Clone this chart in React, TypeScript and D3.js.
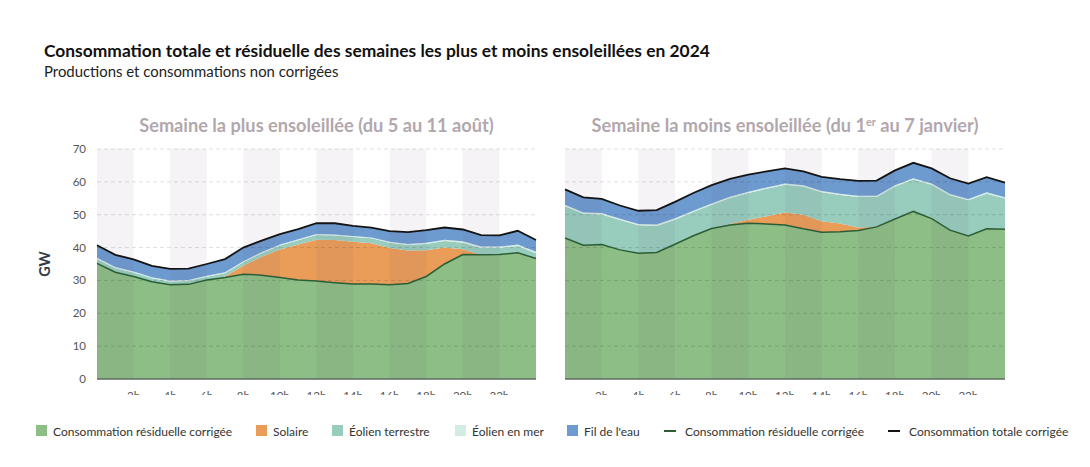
import React, { useEffect, useRef } from 'react';
import * as d3 from 'd3';

// hourly samples, 0h .. 24h
const HOURS = [0, 1, 2, 3, 4, 5, 6, 7, 8, 9, 10, 11, 12, 13, 14, 15, 16, 17, 18, 19, 20, 21, 22, 23, 24];

// Semaine la plus ensoleillée (août)
const residualAug = [35.2, 32.5, 31.2, 29.6, 28.7, 28.8, 30.1, 30.9, 31.9, 31.6, 30.9, 30.1, 29.8, 29.3, 28.9, 28.9, 28.7, 29.1, 31.2, 35.0, 37.9, 37.8, 37.9, 38.4, 36.7];
const solarAug = [0, 0, 0, 0, 0, 0, 0, 0.3, 2.6, 5.6, 8.5, 10.8, 12.6, 13.0, 12.9, 12.4, 11.2, 10.0, 8.0, 5.0, 1.6, 0, 0, 0, 0];
const onshoreAug = [1.3, 1.2, 1.2, 1.1, 1.0, 1.0, 1.0, 1.0, 1.0, 1.1, 1.2, 1.3, 1.4, 1.4, 1.4, 1.5, 1.6, 1.7, 1.9, 2.0, 2.0, 2.1, 2.0, 2.1, 1.6];
const offshoreAug = [0.4, 0.4, 0.3, 0.3, 0.3, 0.3, 0.3, 0.3, 0.3, 0.3, 0.3, 0.3, 0.3, 0.3, 0.3, 0.3, 0.3, 0.3, 0.4, 0.4, 0.4, 0.4, 0.4, 0.4, 0.4];
const hydroAug = [3.8, 3.7, 3.7, 3.4, 3.5, 3.5, 3.6, 4.0, 4.2, 3.5, 3.2, 3.1, 3.3, 3.4, 3.1, 3.0, 3.2, 3.6, 3.8, 3.7, 3.6, 3.5, 3.4, 4.2, 3.6];

// Semaine la moins ensoleillée (janvier)
const residualJan = [42.9, 40.7, 40.9, 39.3, 38.3, 38.5, 41.0, 43.6, 45.8, 46.9, 47.4, 47.2, 46.9, 45.7, 44.7, 44.8, 45.2, 46.3, 48.7, 51.0, 48.8, 45.3, 43.5, 45.7, 45.6];
const solarJan = [0, 0, 0, 0, 0, 0, 0, 0, 0, 0.3, 1.1, 2.3, 3.8, 4.3, 3.3, 2.5, 0.9, 0, 0, 0, 0, 0, 0, 0, 0];
const onshoreJan = [9.7, 9.6, 9.2, 9.1, 8.5, 8.1, 7.5, 7.2, 7.2, 7.9, 8.1, 8.4, 8.4, 8.6, 8.8, 8.7, 9.3, 9.1, 9.9, 9.7, 10.3, 10.6, 10.9, 10.7, 9.3];
const offshoreJan = [0.4, 0.4, 0.4, 0.4, 0.4, 0.4, 0.4, 0.4, 0.4, 0.4, 0.4, 0.4, 0.4, 0.4, 0.4, 0.4, 0.4, 0.4, 0.4, 0.4, 0.4, 0.4, 0.4, 0.4, 0.4];
const hydroJan = [4.7, 4.6, 4.3, 4.0, 4.0, 4.4, 5.0, 5.4, 5.6, 5.4, 5.2, 4.9, 4.6, 4.2, 4.3, 4.4, 4.5, 4.6, 4.5, 4.7, 4.6, 4.8, 4.7, 4.6, 4.5];

const X_TICKS = [2, 4, 6, 8, 10, 12, 14, 16, 18, 20, 22];
const Y_TICKS = [0, 10, 20, 30, 40, 50, 60, 70];
const BAND_STARTS = [0, 4, 8, 12, 16, 20];

const KEYS = ['residual', 'solar', 'onshore', 'offshore', 'hydro'];
const COLORS: Record<string, string> = {
  residual: '#8cbe85',
  solar: '#e99d58',
  onshore: '#98ccbd',
  offshore: '#d3ebe5',
  hydro: '#6d9bd0',
};
const RESIDUAL_LINE = '#2b5e36';
const TOTAL_LINE = '#141414';

const LEGEND = [
  { label: 'Consommation résiduelle corrigée', color: COLORS.residual, kind: 'box', x: 36 },
  { label: 'Solaire', color: COLORS.solar, kind: 'box', x: 256 },
  { label: 'Éolien terrestre', color: COLORS.onshore, kind: 'box', x: 332 },
  { label: 'Éolien en mer', color: COLORS.offshore, kind: 'box', x: 455 },
  { label: "Fil de l'eau", color: COLORS.hydro, kind: 'box', x: 567 },
  { label: 'Consommation résiduelle corrigée', color: RESIDUAL_LINE, kind: 'line', x: 664 },
  { label: 'Consommation totale corrigée', color: TOTAL_LINE, kind: 'line', x: 888 },
];

const FONT = 'Lato, "Open Sans", sans-serif';

const App: React.FC = () => {
  const svgRef = useRef<SVGSVGElement>(null);

  useEffect(() => {
    if (!svgRef.current) return;
    const svg = d3.select(svgRef.current);
    svg.selectAll('*').remove();

    const top = 149, bottom = 379;
    const y = d3.scaleLinear().domain([0, 70]).range([bottom, top]);

    // clip for the half-hidden hour labels
    svg.append('defs').append('clipPath').attr('id', 'cut')
      .append('rect').attr('x', 0).attr('y', 0).attr('width', 1090).attr('height', 395);

    svg.append('text').text('Consommation totale et résiduelle des semaines les plus et moins ensoleillées en 2024')
      .attr('x', 44).attr('y', 57).attr('font-family', FONT).attr('font-size', 17.4)
      .attr('font-weight', 'bold').attr('fill', '#111');
    svg.append('text').text('Productions et consommations non corrigées')
      .attr('x', 44).attr('y', 77).attr('font-family', FONT).attr('font-size', 14.9).attr('fill', '#222');

    // y axis (left panel only)
    svg.append('g').selectAll('text').data(Y_TICKS).join('text')
      .attr('x', 86).attr('y', d => y(d) + 4).attr('text-anchor', 'end')
      .attr('font-family', FONT).attr('font-size', 11.5).attr('fill', '#555')
      .text(d => d);
    svg.append('text').text('GW')
      .attr('transform', `translate(50,${(top + bottom) / 2}) rotate(-90)`)
      .attr('text-anchor', 'middle').attr('font-family', FONT).attr('font-size', 14.5)
      .attr('font-weight', 'bold').attr('fill', '#333a48');

    const panels = [
      {
        x0: 97, x1: 536, title: 'Semaine la plus ensoleillée (du 5 au 11 août)', sup: '',
        residual: residualAug, solar: solarAug, onshore: onshoreAug, offshore: offshoreAug, hydro: hydroAug,
      },
      {
        x0: 565, x1: 1005, title: 'Semaine la moins ensoleillée (du 1', sup: 'er',
        residual: residualJan, solar: solarJan, onshore: onshoreJan, offshore: offshoreJan, hydro: hydroJan,
      },
    ];

    panels.forEach(p => {
      const x = d3.scaleLinear().domain([0, 24]).range([p.x0, p.x1]);
      const g = svg.append('g');

      const t = g.append('text').attr('x', (p.x0 + p.x1) / 2).attr('y', 132)
        .attr('text-anchor', 'middle').attr('font-family', FONT).attr('font-size', 18.2)
        .attr('font-weight', 'bold').attr('fill', '#b2a7ad');
      t.append('tspan').text(p.title);
      if (p.sup) {
        t.append('tspan').text(p.sup).attr('font-size', 11).attr('dy', -6);
        t.append('tspan').text(' au 7 janvier)').attr('dy', 6);
      }

      const rows = HOURS.map((h, i) => ({
        hour: h,
        residual: p.residual[i],
        solar: p.solar[i],
        onshore: p.onshore[i],
        offshore: p.offshore[i],
        hydro: p.hydro[i],
      }));
      const stacked = d3.stack<any>().keys(KEYS)(rows);

      const area = d3.area<any>()
        .x(d => x(d.data.hour))
        .y0(d => y(d[0]))
        .y1(d => y(d[1]));

      g.selectAll('path.layer').data(stacked).join('path')
        .attr('class', 'layer')
        .attr('d', area)
        .attr('fill', d => COLORS[d.key]);

      // alternating 2h bands
      g.selectAll('rect.band').data(BAND_STARTS).join('rect')
        .attr('class', 'band')
        .attr('x', d => x(d)).attr('width', d => x(d + 2) - x(d))
        .attr('y', top).attr('height', bottom - top)
        .attr('fill', '#6b4f63').attr('opacity', 0.065);

      // grid
      g.selectAll('line.grid').data(Y_TICKS.filter(v => v > 0)).join('line')
        .attr('class', 'grid')
        .attr('x1', p.x0).attr('x2', p.x1)
        .attr('y1', d => y(d)).attr('y2', d => y(d))
        .attr('stroke', '#000').attr('stroke-opacity', 0.13)
        .attr('stroke-dasharray', '4,3');

      const line = d3.line<any>().x(d => x(d.data.hour)).y(d => y(d[1]));
      g.append('path').datum(stacked[0]).attr('d', line)
        .attr('fill', 'none').attr('stroke', RESIDUAL_LINE).attr('stroke-width', 1.5);
      g.append('path').datum(stacked[stacked.length - 1]).attr('d', line)
        .attr('fill', 'none').attr('stroke', TOTAL_LINE).attr('stroke-width', 1.8);

      g.append('line').attr('x1', p.x0).attr('x2', p.x1)
        .attr('y1', bottom).attr('y2', bottom)
        .attr('stroke', '#5f6b60').attr('stroke-width', 1.5);

      g.append('g').attr('clip-path', 'url(#cut)')
        .selectAll('text').data(X_TICKS).join('text')
        .attr('x', d => x(d)).attr('y', 400).attr('text-anchor', 'middle')
        .attr('font-family', FONT).attr('font-size', 11.5).attr('fill', '#555')
        .text(d => `${d}h`);
    });

    // legend
    const lg = svg.append('g').selectAll('g').data(LEGEND).join('g')
      .attr('transform', d => `translate(${d.x},431)`);
    lg.filter(d => d.kind === 'box').append('rect')
      .attr('x', 0).attr('y', -6).attr('width', 11).attr('height', 11).attr('fill', d => d.color);
    lg.filter(d => d.kind === 'line').append('line')
      .attr('x1', 0).attr('x2', 12).attr('y1', 0).attr('y2', 0)
      .attr('stroke', d => d.color).attr('stroke-width', 2);
    lg.append('text').text(d => d.label)
      .attr('x', d => (d.kind === 'box' ? 17 : 21)).attr('y', 4.5)
      .attr('font-family', FONT).attr('font-size', 12).attr('fill', '#333');
  }, []);

  return (
    <div style={{ position: 'absolute', left: 0, top: 0, width: 1090, height: 467, background: '#fff' }}>
      <svg ref={svgRef} width={1090} height={467} />
    </div>
  );
};

export default App;
